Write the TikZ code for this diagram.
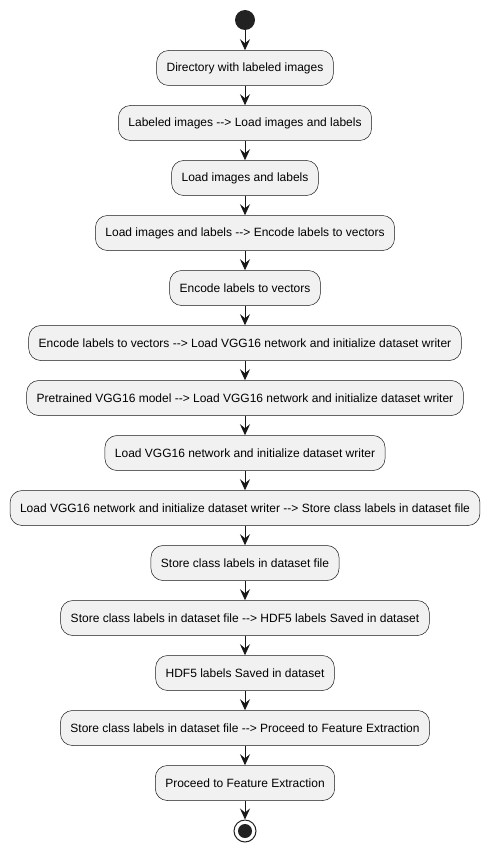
\documentclass[tikz,border=0pt]{standalone}
\usepackage{fontspec}
\setmainfont{Liberation Sans}
\usetikzlibrary{arrows.meta}
\definecolor{nodefill}{HTML}{F1F1F1}
\definecolor{lineclr}{HTML}{181818}
\definecolor{dotclr}{HTML}{222222}
\newcommand{\arr}{-{}->}
\tikzset{
  actbox/.style={draw=lineclr, fill=nodefill, line width=0.5pt, rounded corners=12pt,
    minimum height=35pt, inner xsep=10pt, font=\fontsize{12pt}{14pt}\selectfont},
  flow/.style={draw=lineclr, line width=1pt, -{Stealth[length=11pt,width=10pt,inset=4pt]}},
}
\begin{document}
\begin{tikzpicture}[x=1pt,y=-1pt]
\useasboundingbox (0,0) rectangle (490,853);
\node[circle, fill=dotclr, minimum size=20pt, inner sep=0pt] (start) at (245,20) {};
\node[actbox] (n1) at (245,68) {Directory with labeled images};
\node[actbox] (n2) at (245,123) {Labeled images \arr{} Load images and labels};
\node[actbox] (n3) at (245,178) {Load images and labels};
\node[actbox] (n4) at (245,233) {Load images and labels \arr{} Encode labels to vectors};
\node[actbox] (n5) at (245,288) {Encode labels to vectors};
\node[actbox] (n6) at (245,343) {Encode labels to vectors \arr{} Load VGG16 network and initialize dataset writer};
\node[actbox] (n7) at (245,398) {Pretrained VGG16 model \arr{} Load VGG16 network and initialize dataset writer};
\node[actbox] (n8) at (245,453) {Load VGG16 network and initialize dataset writer};
\node[actbox] (n9) at (245,508) {Load VGG16 network and initialize dataset writer \arr{} Store class labels in dataset file};
\node[actbox] (n10) at (245,563) {Store class labels in dataset file};
\node[actbox] (n11) at (245,618) {Store class labels in dataset file \arr{} HDF5 labels Saved in dataset};
\node[actbox] (n12) at (245,673) {HDF5 labels Saved in dataset};
\node[actbox] (n13) at (245,728) {Store class labels in dataset file \arr{} Proceed to Feature Extraction};
\node[actbox] (n14) at (245,783) {Proceed to Feature Extraction};
\node[circle, draw=dotclr, line width=1pt, fill=white, minimum size=22pt, inner sep=0pt] (stop) at (245,831) {};
\node[circle, fill=dotclr, minimum size=14pt, inner sep=0pt] (stopdot) at (stop.center) {};
\draw[flow] (start) -- (n1);
\foreach \a/\b in {n1/n2,n2/n3,n3/n4,n4/n5,n5/n6,n6/n7,n7/n8,n8/n9,n9/n10,n10/n11,n11/n12,n12/n13,n13/n14}
  \draw[flow] (\a) -- (\b);
\draw[flow] (n14) -- (stop);
\end{tikzpicture}
\end{document}
